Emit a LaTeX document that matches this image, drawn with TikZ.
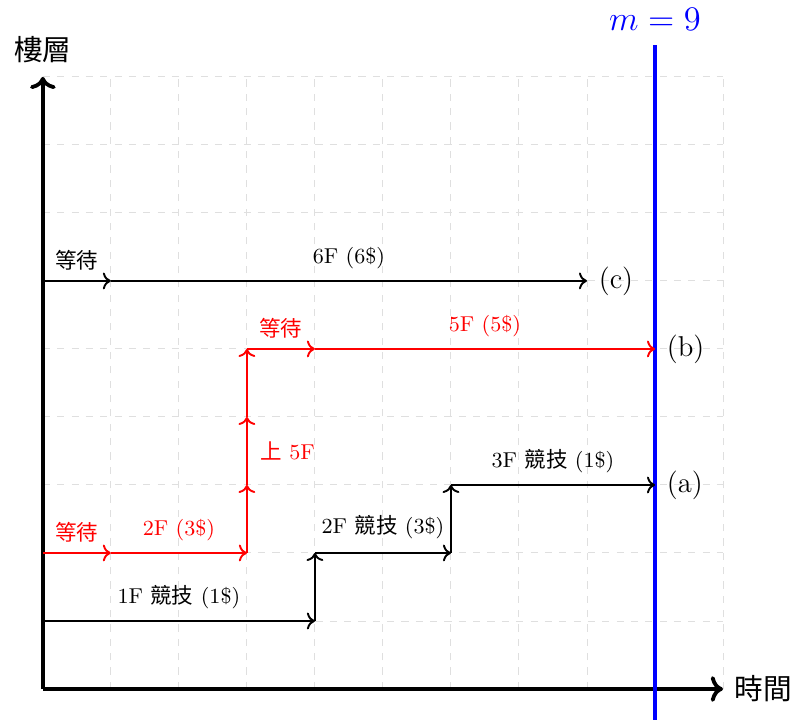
\documentclass[tikz,border=0pt]{standalone}
\usepackage{fontspec}
\usepackage{xcolor}
\usepackage{tikz}
\usepackage{amsmath}
\usetikzlibrary{arrows.meta, positioning, calc}
\newfontfamily\cjk{Noto Sans CJK TC}

\begin{document}
\begin{tikzpicture}[
    axis/.style={ultra thick, ->},
    stepline/.style={thick, ->},
    waitline/.style={thick, ->, red},
    lbl/.style={font=\small, above},
    endlbl/.style={font=\large, right},
]
\useasboundingbox (-0.63,-0.455) rectangle (11.22,10.13);

% grid and axes
\draw[gray!25, dashed] (0,0) grid (10,9);
\coordinate (O) at (0,0);
\coordinate (xend) at (10,0);
\coordinate (yend) at (0,9);
\draw[axis] (O) -- (xend);
\draw[axis] (O) -- (yend);
\node[anchor=west, font=\large\cjk] (xlab) at (10.05,0) {時間};
\node[font=\large\cjk] (ylab) at (0,9.4) {樓層};

% deadline m
\coordinate (mlow) at (9,-0.46);
\coordinate (mhigh) at (9,9.47);
\draw[blue, ultra thick] (mlow) -- (mhigh);
\node[blue, font=\Large] (mlab) at (9,9.84) {$m = 9$};

% (a): compete at each floor
\coordinate (a0) at (0,1);
\coordinate (a1) at (4,1);
\coordinate (a2) at (4,2);
\coordinate (a3) at (6,2);
\coordinate (a4) at (6,3);
\coordinate (a5) at (9,3);
\draw[stepline] (a0) -- (a1);
\draw[stepline] (a1) -- (a2);
\draw[stepline] (a2) -- (a3);
\draw[stepline] (a3) -- (a4);
\draw[stepline] (a4) -- (a5);
\node[lbl] (a01) at (2,1.05) {1F {\cjk 競技} (1\$)};
\node[lbl] (a23) at (5,2.08) {2F {\cjk 競技} (3\$)};
\node[lbl] (a45) at (7.5,3.05) {3F {\cjk 競技} (1\$)};
\node[endlbl] (alab) at (9.05,3) {(a)};

% (b): wait, go up to 5F
\coordinate (b0) at (0,2);
\coordinate (b1) at (1,2);
\coordinate (b2) at (3,2);
\coordinate (b3) at (3,3);
\coordinate (b4) at (3,4);
\coordinate (b5) at (3,5);
\coordinate (b6) at (4,5);
\coordinate (b7) at (9,5);
\draw[waitline] (b0) -- (b1);
\draw[waitline] (b1) -- (b2);
\draw[waitline] (b2) -- (b3);
\draw[waitline] (b3) -- (b4);
\draw[waitline] (b4) -- (b5);
\draw[waitline] (b5) -- (b6);
\draw[waitline] (b6) -- (b7);
\node[lbl, red, font=\small\cjk] (b01) at (0.5,2.03) {等待};
\node[lbl, red] (b12) at (2,2.05) {2F (3\$)};
\node[red, font=\small] (b25) at (3.6,3.5) {{\cjk 上} 5F};
\node[lbl, red, font=\small\cjk] (b56) at (3.5,5.03) {等待};
\node[lbl, red] (b67) at (6.5,5.05) {5F (5\$)};
\node[endlbl] (blab) at (9.05,5) {(b)};

% (c): wait, go to 6F
\coordinate (c0) at (0,6);
\coordinate (c1) at (1,6);
\coordinate (c2) at (8,6);
\draw[stepline] (c0) -- (c1);
\draw[stepline] (c1) -- (c2);
\node[lbl, font=\small\cjk] (c01) at (0.5,6.03) {等待};
\node[lbl] (c12) at (4.5,6.05) {6F (6\$)};
\node[endlbl] (clab) at (8.05,6) {(c)};

\end{tikzpicture}
\end{document}
